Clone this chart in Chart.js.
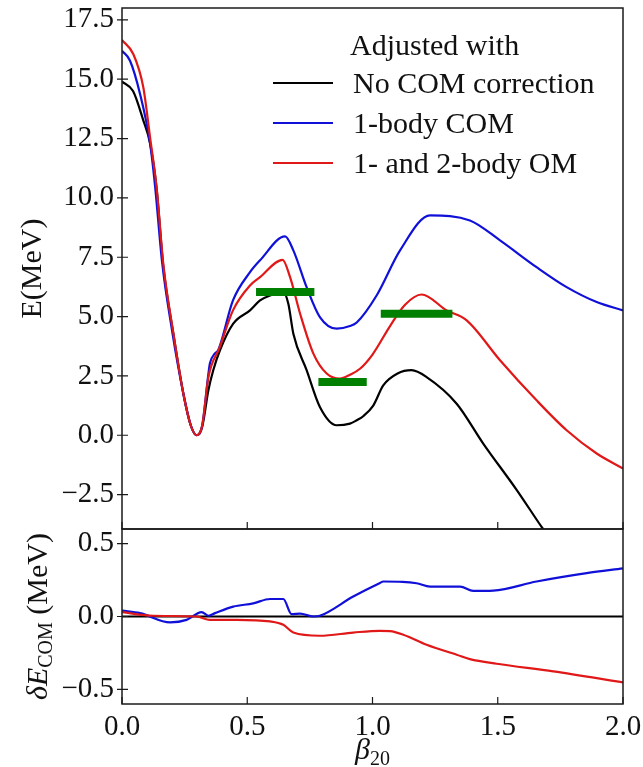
<!DOCTYPE html>
<html>
<head>
<meta charset="utf-8">
<script src="https://cdn.jsdelivr.net/npm/chart.js@4.4.1/dist/chart.umd.min.js"></script>
<style>
  body { margin: 0; background: #fff; }
  #wrap { position: relative; width: 643px; height: 767px; overflow: hidden; }
  #wrap canvas { position: absolute; left: 0; }
</style>
</head>
<body>
<div id="wrap">
  <canvas id="top" width="643" height="535" style="top:0"></canvas>
  <canvas id="bottom" width="643" height="247" style="top:520px"></canvas>
</div>
<script>
// ---- top panel: E(MeV) vs beta20 ----
const betaBlack = [0, 0.044, 0.084, 0.112, 0.138, 0.165, 0.205, 0.245, 0.275, 0.298, 0.32, 0.345, 0.364, 0.391, 0.444, 0.511, 0.551, 0.591, 0.644, 0.664, 0.684, 0.737, 0.79, 0.857, 0.91, 0.937, 0.963, 1.003, 1.043, 1.1, 1.156, 1.216, 1.336, 1.442, 1.576, 1.675, 1.8, 2.0];
const eBlack = [14.9, 14.5, 13.3, 12.3, 10.4, 7.1, 4.28, 1.75, 0.4, 0.0, 0.35, 1.9, 2.73, 3.58, 4.7, 5.26, 5.68, 5.89, 6.03, 5.54, 4.28, 2.74, 1.19, 0.42, 0.49, 0.63, 0.8, 1.25, 2.1, 2.6, 2.74, 2.45, 1.33, -0.35, -2.31, -3.86, -5.7, -8.6];

const betaBlue = [0, 0.032, 0.072, 0.112, 0.132, 0.16, 0.2, 0.245, 0.275, 0.298, 0.32, 0.345, 0.351, 0.371, 0.384, 0.443, 0.511, 0.551, 0.651, 0.684, 0.737, 0.79, 0.857, 0.91, 0.937, 1.017, 1.11, 1.23, 1.389, 1.509, 1.655, 1.775, 1.895, 2.0];
const eBlue = [16.2, 15.78, 14.38, 12.3, 10.5, 7.3, 4.4, 1.75, 0.4, 0.0, 0.4, 2.6, 3.03, 3.45, 3.58, 5.68, 6.87, 7.37, 8.38, 7.79, 6.24, 4.98, 4.49, 4.6, 4.75, 5.9, 7.79, 9.26, 9.05, 8.21, 7.08, 6.24, 5.61, 5.26];

const betaRed = [0, 0.045, 0.085, 0.112, 0.138, 0.165, 0.205, 0.245, 0.275, 0.298, 0.32, 0.345, 0.39, 0.443, 0.511, 0.551, 0.641, 0.671, 0.711, 0.764, 0.817, 0.87, 0.91, 0.95, 1.0, 1.07, 1.13, 1.196, 1.296, 1.376, 1.509, 1.655, 1.775, 1.895, 2.0];
const eRed = [16.65, 16.06, 14.66, 12.55, 10.45, 7.2, 4.3, 1.75, 0.4, 0.0, 0.4, 2.45, 3.7, 5.26, 6.31, 6.66, 7.39, 6.66, 5.12, 3.44, 2.6, 2.39, 2.55, 2.8, 3.4, 4.6, 5.5, 5.93, 5.26, 4.84, 3.16, 1.47, 0.21, -0.77, -1.4];

// green horizontal bars: [start, end] in beta20 and their energy
const barStart = [0.535, 0.784, 1.033];
const barEnd = [0.768, 0.977, 1.319];
const barE = [6.04, 2.24, 5.12];

// ---- bottom panel: delta E_COM ----
const betaDBlue = [0, 0.072, 0.192, 0.258, 0.318, 0.345, 0.371, 0.444, 0.524, 0.591, 0.644, 0.677, 0.711, 0.764, 0.79, 0.923, 1.03, 1.043, 1.12, 1.176, 1.23, 1.35, 1.402, 1.482, 1.655, 1.855, 2.0];
const dBlue = [0.04, 0.023, -0.04, -0.023, 0.03, 0.005, 0.023, 0.068, 0.09, 0.12, 0.12, 0.016, 0.02, 0.0, 0.005, 0.137, 0.23, 0.24, 0.238, 0.228, 0.205, 0.205, 0.176, 0.178, 0.24, 0.297, 0.33];
const betaDRed = [0, 0.125, 0.298, 0.351, 0.458, 0.591, 0.644, 0.684, 0.79, 0.923, 1.03, 1.07, 1.123, 1.216, 1.336, 1.389, 1.496, 1.722, 2.0];
const dRed = [0.03, 0.005, 0.0, -0.023, -0.023, -0.034, -0.057, -0.11, -0.132, -0.11, -0.098, -0.1, -0.125, -0.194, -0.262, -0.292, -0.324, -0.376, -0.452];
const betaDBlack = [0, 2.0];
const dBlack = [0, 0];

const xTicks = [0, 0.5, 1.0, 1.5, 2.0];
const legendTitle = 'Adjusted with';
const seriesLabels = ['No COM correction', '1-body COM', '1- and 2-body OM'];
const seriesColors = ['#000000', '#1010d8', '#e01818'];
const barColor = '#008000';

const SERIF = '"Liberation Serif", "DejaVu Serif", serif';

function zip(xs, ys) {
    return xs.map((x, i) => ({ x: x, y: ys[i] }));
}

function fmt(v) {
    return v.toFixed(1).replace('-', '\u2212');
}

function curve(label, xs, ys, color, order) {
    return {
        label: label,
        data: zip(xs, ys),
        borderColor: color,
        borderWidth: 2.2,
        pointRadius: 0,
        cubicInterpolationMode: 'monotone',
        fill: false,
        order: order
    };
}

// fixed axis boxes so the plot areas land where the figure has them
function fixY(s) {
    s.width = 122;
    s.paddingTop = 0;
    s.paddingBottom = 0;
}
function fixX(h) {
    return s => {
        s.height = h;
        s.paddingLeft = 0;
        s.paddingRight = 0;
    };
}

// frame + inward tick marks
function drawFrame(chart) {
    const ctx = chart.ctx;
    const a = chart.chartArea;
    const xs = chart.scales.x;
    const ys = chart.scales.y;
    ctx.save();
    ctx.strokeStyle = '#1a1a1a';
    ctx.lineWidth = 1.5;
    ctx.strokeRect(a.left, a.top, a.right - a.left, a.bottom - a.top);
    ctx.lineWidth = 1.2;
    ctx.beginPath();
    ys.ticks.forEach(t => {
        const py = ys.getPixelForValue(t.value);
        ctx.moveTo(a.left - 5, py);
        ctx.lineTo(a.left + 6, py);
    });
    xTicks.forEach(v => {
        const px = xs.getPixelForValue(v);
        ctx.moveTo(px, a.bottom);
        ctx.lineTo(px, a.bottom - 7);
    });
    ctx.stroke();
    ctx.restore();
}

const topPlugin = {
    id: 'topDecor',
    afterDraw(chart) {
        drawFrame(chart);
        const ctx = chart.ctx;
        ctx.save();
        // y title
        ctx.fillStyle = '#111';
        ctx.font = '30px ' + SERIF;
        ctx.translate(41, (chart.chartArea.top + chart.chartArea.bottom) / 2);
        ctx.rotate(-Math.PI / 2);
        ctx.textAlign = 'center';
        ctx.textBaseline = 'alphabetic';
        ctx.fillText('E(MeV)', 0, 0);
        ctx.restore();

        // legend
        ctx.save();
        ctx.font = '30px ' + SERIF;
        ctx.fillStyle = '#111';
        ctx.textBaseline = 'middle';
        ctx.textAlign = 'left';
        ctx.fillText(legendTitle, 350, 47);
        const rowY = [83, 123, 163];
        seriesLabels.forEach((lab, i) => {
            ctx.strokeStyle = seriesColors[i];
            ctx.lineWidth = 2.2;
            ctx.beginPath();
            ctx.moveTo(273, rowY[i]);
            ctx.lineTo(333, rowY[i]);
            ctx.stroke();
            ctx.fillText(lab, 353, rowY[i] + 2);
        });
        ctx.restore();
    }
};

const bottomPlugin = {
    id: 'bottomDecor',
    afterDraw(chart) {
        drawFrame(chart);
        const ctx = chart.ctx;
        const a = chart.chartArea;
        // y title: delta E_COM (MeV)
        ctx.save();
        ctx.fillStyle = '#111';
        ctx.translate(47, (a.top + a.bottom) / 2);
        ctx.rotate(-Math.PI / 2);
        ctx.textBaseline = 'alphabetic';
        const parts = [
            { t: '\u03B4E', f: 'italic 30px ' + SERIF, dy: 0 },
            { t: 'COM', f: '20px ' + SERIF, dy: 5 },
            { t: ' (MeV)', f: '30px ' + SERIF, dy: 0 }
        ];
        let total = 0;
        parts.forEach(p => { ctx.font = p.f; p.w = ctx.measureText(p.t).width; total += p.w; });
        let cx = -total / 2;
        parts.forEach(p => { ctx.font = p.f; ctx.fillText(p.t, cx, p.dy); cx += p.w; });
        ctx.restore();

        // x title: beta_20
        ctx.save();
        ctx.fillStyle = '#111';
        ctx.textBaseline = 'alphabetic';
        ctx.font = 'italic 30px ' + SERIF;
        const bw = ctx.measureText('\u03B2').width;
        ctx.font = '20px ' + SERIF;
        const sw = ctx.measureText('20').width;
        const x0 = (a.left + a.right) / 2 - (bw + sw) / 2;
        ctx.font = 'italic 30px ' + SERIF;
        ctx.fillText('\u03B2', x0, 239);
        ctx.font = '20px ' + SERIF;
        ctx.fillText('20', x0 + bw, 245);
        ctx.restore();
    }
};

const tickFont = { family: SERIF, size: 29 };

// top chart
const topSets = [
    curve(seriesLabels[0], betaBlack, eBlack, seriesColors[0], 3),
    curve(seriesLabels[1], betaBlue, eBlue, seriesColors[1], 2),
    curve(seriesLabels[2], betaRed, eRed, seriesColors[2], 1)
];
barE.forEach((e, i) => {
    topSets.push({
        label: 'bar' + i,
        data: [{ x: barStart[i], y: e }, { x: barEnd[i], y: e }],
        borderColor: barColor,
        borderWidth: 8,
        borderCapStyle: 'butt',
        pointRadius: 0,
        order: 0
    });
});

new Chart(document.getElementById('top'), {
    type: 'line',
    data: { datasets: topSets },
    options: {
        responsive: false,
        animation: false,
        layout: { padding: { top: 8, right: 20, bottom: 6, left: 0 } },
        plugins: { legend: { display: false }, tooltip: { enabled: false } },
        scales: {
            x: {
                type: 'linear', min: 0, max: 2,
                ticks: { display: false },
                grid: { display: false, drawTicks: false },
                border: { display: false },
                afterFit: fixX(0)
            },
            y: {
                min: -3.95, max: 18,
                ticks: { stepSize: 2.5, includeBounds: false, padding: 8, color: '#111', font: tickFont, callback: v => fmt(v) },
                grid: { display: false, drawTicks: false },
                border: { display: false },
                afterFit: fixY
            }
        }
    },
    plugins: [topPlugin]
});

// bottom chart
new Chart(document.getElementById('bottom'), {
    type: 'line',
    data: {
        datasets: [
            curve(seriesLabels[0], betaDBlack, dBlack, seriesColors[0], 3),
            curve(seriesLabels[1], betaDBlue, dBlue, seriesColors[1], 2),
            curve(seriesLabels[2], betaDRed, dRed, seriesColors[2], 1)
        ]
    },
    options: {
        responsive: false,
        animation: false,
        layout: { padding: { top: 9, right: 20, bottom: 0, left: 0 } },
        plugins: { legend: { display: false }, tooltip: { enabled: false } },
        scales: {
            x: {
                type: 'linear', min: 0, max: 2,
                afterBuildTicks: s => { s.ticks = xTicks.map(v => ({ value: v })); },
                ticks: { padding: 6, color: '#111', font: tickFont, maxRotation: 0, callback: v => fmt(v) },
                grid: { display: false, drawTicks: false },
                border: { display: false },
                afterFit: fixX(63)
            },
            y: {
                min: -0.6, max: 0.6,
                ticks: { stepSize: 0.5, includeBounds: false, padding: 8, color: '#111', font: tickFont, callback: v => fmt(v) },
                grid: { display: false, drawTicks: false },
                border: { display: false },
                afterFit: fixY
            }
        }
    },
    plugins: [bottomPlugin]
});
</script>
</body>
</html>
